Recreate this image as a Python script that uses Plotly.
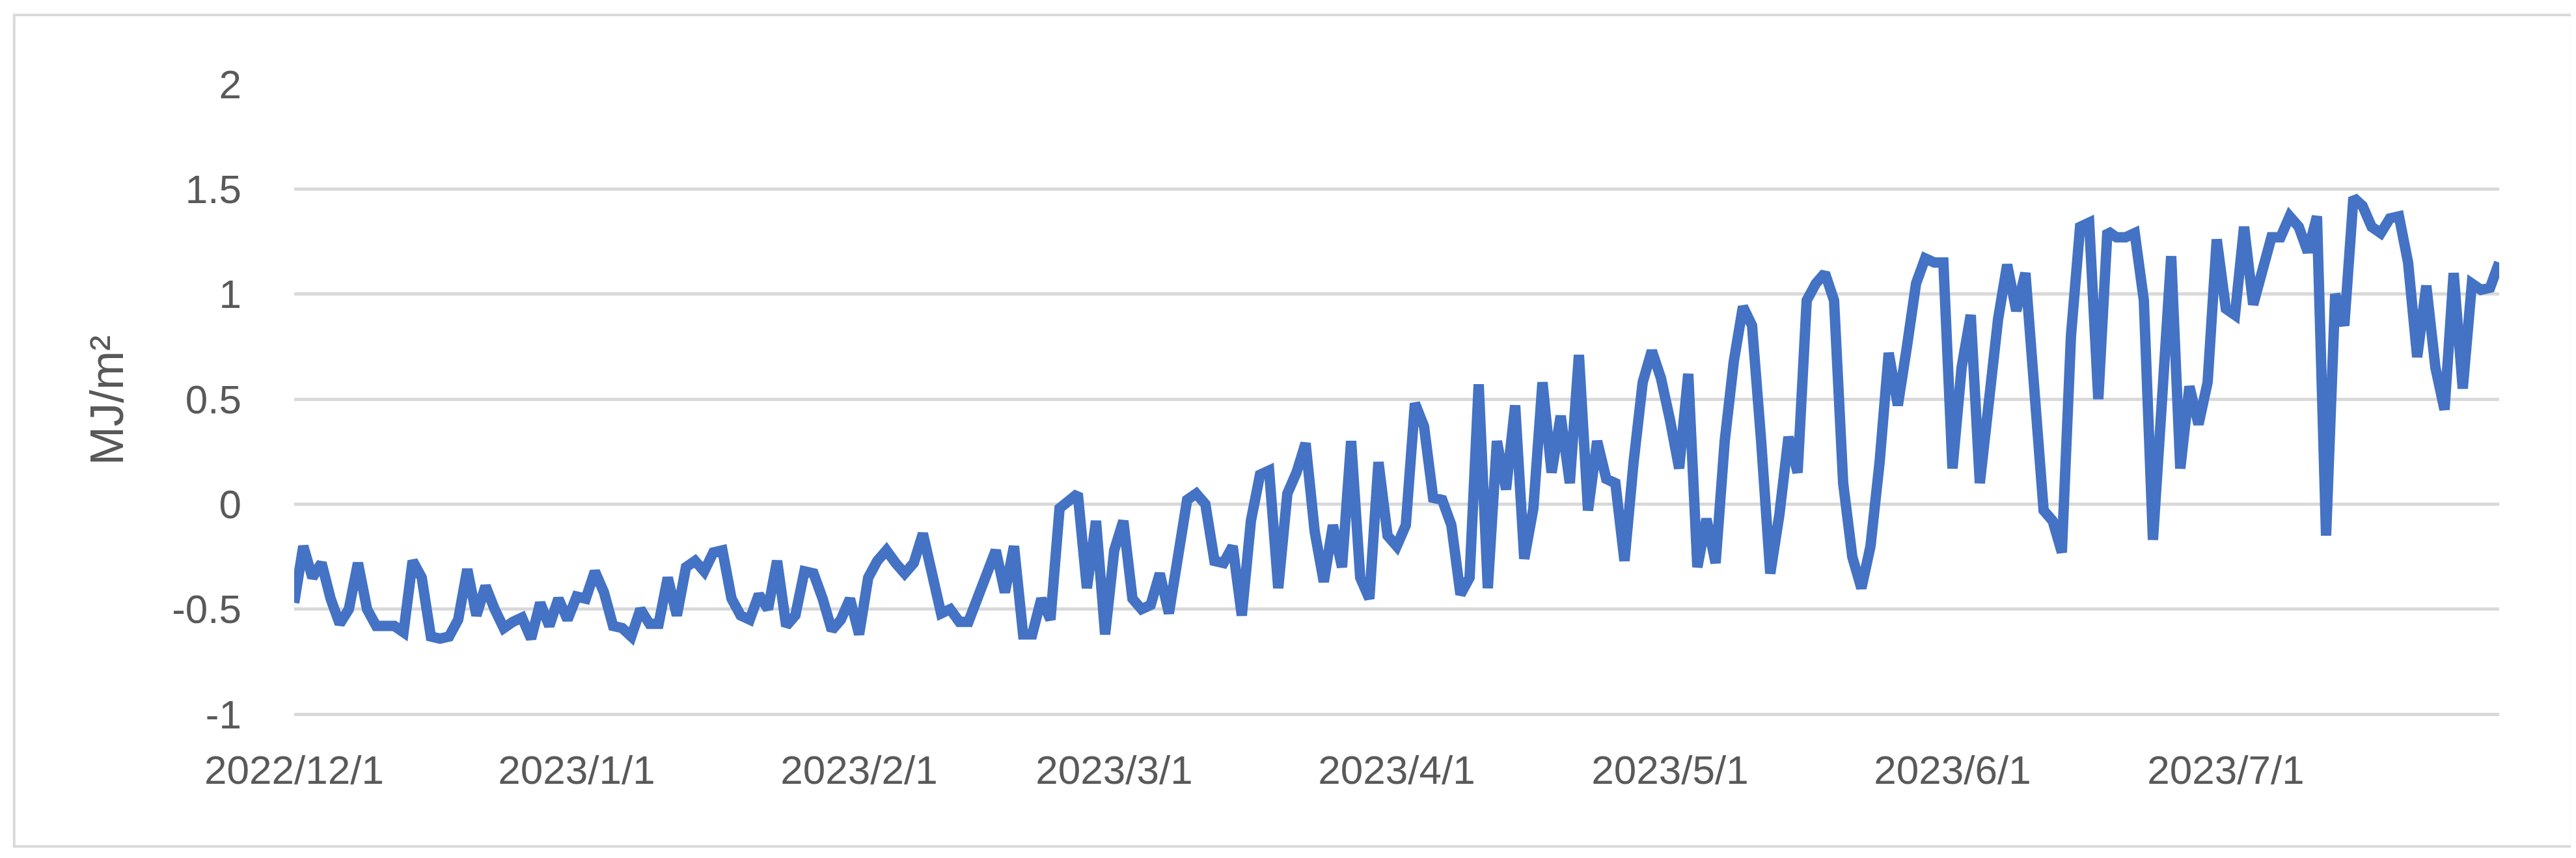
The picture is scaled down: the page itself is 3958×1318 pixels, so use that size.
import pandas as pd
import plotly.graph_objects as go

dec = [-0.47,-0.2,-0.35,-0.28,-0.45,-0.57,-0.5,-0.28,-0.5,-0.58,-0.58,-0.58,-0.61,-0.27,-0.35,-0.63,-0.64,-0.63,-0.55,-0.31,-0.53,-0.39,-0.5,-0.59,-0.56,-0.54,-0.64,-0.47,-0.58,-0.45,-0.55]
jan = [-0.44,-0.45,-0.32,-0.42,-0.58,-0.59,-0.63,-0.5,-0.57,-0.57,-0.35,-0.53,-0.3,-0.27,-0.32,-0.23,-0.22,-0.45,-0.53,-0.55,-0.43,-0.5,-0.27,-0.58,-0.53,-0.32,-0.33,-0.45,-0.6,-0.55,-0.45]
feb = [-0.62,-0.35,-0.27,-0.22,-0.28,-0.33,-0.28,-0.14,-0.33,-0.52,-0.5,-0.56,-0.56,-0.44,-0.32,-0.22,-0.42,-0.2,-0.62,-0.62,-0.45,-0.55,-0.02,0.02,0.05,-0.4,-0.08,-0.62]
mar = [-0.22,-0.08,-0.45,-0.5,-0.48,-0.33,-0.52,-0.25,0.02,0.05,0.0,-0.27,-0.28,-0.2,-0.53,-0.08,0.14,0.16,-0.4,0.05,0.15,0.29,-0.13,-0.37,-0.1,-0.3,0.3,-0.35,-0.45,0.2,-0.15]
apr = [-0.2,-0.1,0.48,0.37,0.03,0.02,-0.1,-0.43,-0.35,0.57,-0.4,0.3,0.07,0.47,-0.26,-0.02,0.58,0.15,0.42,0.1,0.71,-0.03,0.3,0.12,0.1,-0.27,0.2,0.58,0.73,0.6]
may = [0.4,0.17,0.62,-0.3,-0.07,-0.28,0.3,0.68,0.94,0.85,0.3,-0.33,-0.05,0.32,0.15,0.97,1.05,1.1,0.97,0.1,-0.25,-0.4,-0.2,0.2,0.72,0.47,0.75,1.05,1.17,1.15,1.15]
jun = [0.17,0.65,0.9,0.1,0.5,0.88,1.14,0.92,1.1,0.45,-0.03,-0.08,-0.23,0.8,1.32,1.34,0.5,1.3,1.27,1.27,1.29,0.97,-0.17,0.5,1.18,0.17,0.56,0.38,0.58,1.26]
jul = [0.93,0.9,1.32,0.95,1.1,1.27,1.27,1.37,1.32,1.2,1.37,-0.15,1.0,0.85,1.46,1.42,1.32,1.29,1.36,1.37,1.15,0.7,1.04,0.65,0.45,1.1,0.55,1.05,1.02,1.03,1.15]

values = dec + jan + feb + mar + apr + may + jun + jul
dates = pd.date_range("2022-12-01", periods=len(values), freq="D")

tick_vals = ["2022-12-01","2023-01-01","2023-02-01","2023-03-01","2023-04-01","2023-05-01","2023-06-01","2023-07-01"]
tick_text = ["2022/12/1","2023/1/1","2023/2/1","2023/3/1","2023/4/1","2023/5/1","2023/6/1","2023/7/1"]
y_ticks = [-1, -0.5, 0, 0.5, 1, 1.5, 2]

fig = go.Figure(go.Scatter(x=dates, y=values, mode="lines",
                           line=dict(color="#4472C4", width=16), showlegend=False))

font = dict(family="Liberation Sans, Arial", size=62, color="#595959")
fig.update_layout(
    width=3958, height=1318,
    margin=dict(l=444, r=126, t=121, b=225),
    paper_bgcolor="white", plot_bgcolor="white",
    font=font,
    xaxis=dict(range=[dates[0], dates[-1]], tickvals=tick_vals, ticktext=tick_text,
               showgrid=False, zeroline=False, showline=False, ticks="", tickfont=font,
               ticklabelstandoff=40),
    yaxis=dict(range=[-1.012, 2.0], tickvals=y_ticks, ticktext=[str(v) for v in y_ticks],
               showgrid=True, gridcolor="#D9D9D9", gridwidth=5, zeroline=False,
               showline=False, ticks="", tickfont=font, ticklabelstandoff=80,
               title=dict(text="MJ/m²", font=dict(family="Liberation Sans, Arial", size=72, color="#595959"), standoff=50)),
    shapes=[dict(type="rect", xref="paper", yref="paper", x0=-0.127, x1=1.033, y0=-0.205, y1=1.109,
                 line=dict(color="#D9D9D9", width=4), fillcolor="rgba(0,0,0,0)")],
)
fig.write_html("out.html")
